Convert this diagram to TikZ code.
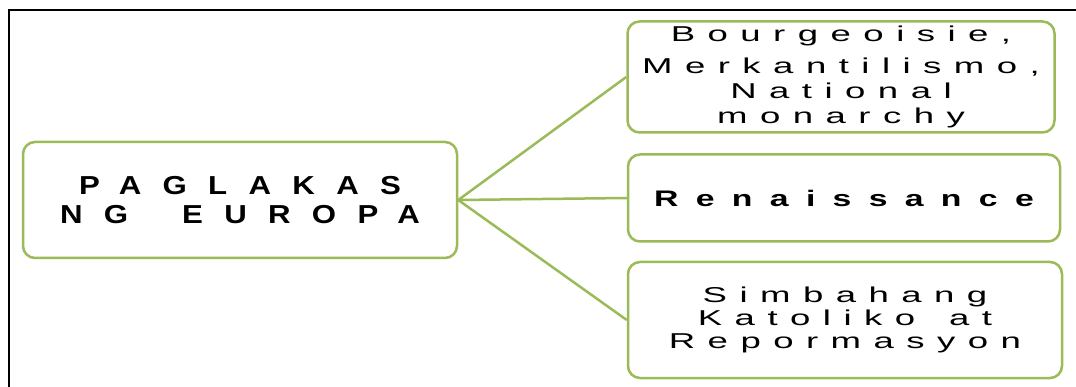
\documentclass[tikz,border=0pt]{standalone}
\usepackage{fontspec}
\setmainfont{Liberation Sans}
\usetikzlibrary{positioning}
\definecolor{leafgreen}{RGB}{155,187,89}
\newfontfamily\titleface[FakeStretch=1.2,LetterSpace=82,WordSpace=1.8]{Liberation Sans}
\newfontfamily\boxface[FakeStretch=1.7,LetterSpace=58,WordSpace=1.5]{Liberation Sans}
\newfontfamily\midface[FakeStretch=1.5,LetterSpace=77]{Liberation Sans}
\tikzset{
  topic/.style={rectangle,rounded corners=12pt,draw=leafgreen,line width=2.5pt,fill=white,inner sep=0pt,align=center},
  link/.style={draw=leafgreen,line width=2.5pt},
}

\begin{document}
\begin{tikzpicture}[x=1pt,y=-1pt]
\useasboundingbox (0,0) rectangle (1076,387);
% \draw[help lines,step=50] (0,0) grid (1076,387);
\draw[line width=1.5pt] (9,387) -- (9,10) -- (1076,10);
%
\node (paglakas) [topic,minimum width=434pt,minimum height=116pt,font=\titleface\bfseries\fontsize{26}{29}\selectfont] at (240,200) {PAGLAKAS\\NG EUROPA};
\node (bourgeoisie) [topic,minimum width=427pt,minimum height=111pt,font=\boxface\fontsize{21.5}{25}\selectfont] at (841,77) {Bourgeoisie,\\[7pt]Merkantilismo,\\National\\monarchy};
\node (renaissance) [topic,minimum width=432pt,minimum height=87pt,font=\midface\bfseries\fontsize{22.5}{25}\selectfont] at (844,198) {Renaissance};
\node (simbahan) [topic,minimum width=434pt,minimum height=116pt,font=\boxface\fontsize{21.5}{23}\selectfont] at (845,320) {Simbahang\\Katoliko at\\Repormasyon};
%
\path[link] (paglakas.east) edge (bourgeoisie.west) edge (renaissance.west) edge (simbahan.west);
\end{tikzpicture}
\end{document}
